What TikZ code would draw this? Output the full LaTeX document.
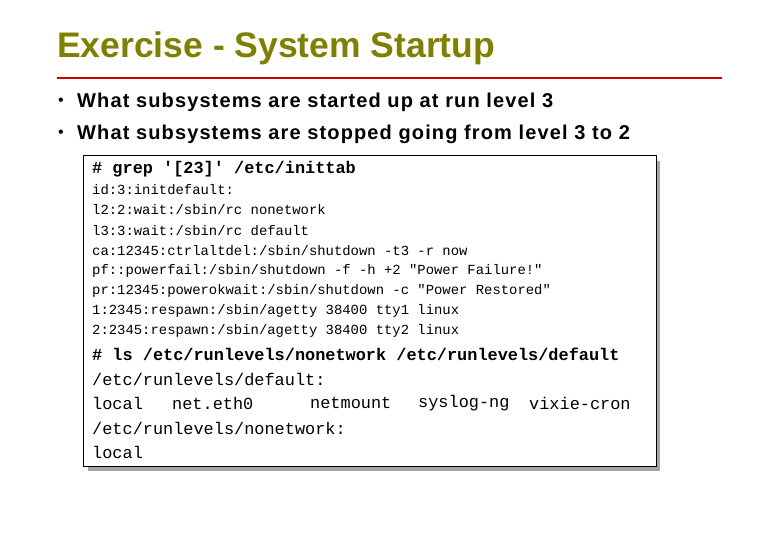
\documentclass[tikz,border=0pt]{standalone}
\usepackage{fontspec}
\setmainfont{Liberation Sans}
\newfontfamily\mono{Liberation Mono}
\newfontfamily\bulfont[LetterSpace=5.6]{Liberation Sans}
\definecolor{olive}{RGB}{128,128,0}
\begin{document}
\begin{tikzpicture}[x=1pt,y=-1pt,
  sm/.style={anchor=west,inner sep=0pt,font=\mono\fontsize{13.9}{14}\selectfont},
  bg/.style={anchor=west,inner sep=0pt,font=\mono\fontsize{16.9}{17}\selectfont},
  bul/.style={anchor=west,inner sep=0pt,font=\bulfont\bfseries\fontsize{20}{21}\selectfont}]
\useasboundingbox (0,0) rectangle (780,540);
\node[anchor=west,inner sep=0pt,text=olive,font=\bfseries\fontsize{35.5}{37}\selectfont] (title) at (57,48) {Exercise - System Startup};
\draw[red!80!black,line width=1.2pt] (57,78) -- (722,78);
\node[anchor=west,inner sep=0pt,font=\fontsize{16}{16}\selectfont] (b1) at (58,102) {•};
\node[bul] (t1) at (77,102) {What subsystems are started up at run level 3};
\node[anchor=west,inner sep=0pt,font=\fontsize{16}{16}\selectfont] (b2) at (58,134) {•};
\node[bul] (t2) at (77,134) {What subsystems are stopped going from level 3 to 2};
\fill[gray!70] (88,161) rectangle (660,471);
\draw[fill=white,line width=1pt] (83,156) rectangle (656,466);
\node[bg,font=\mono\bfseries\fontsize{16.9}{17}\selectfont] (c1) at (92,169) {\# grep '[23]' /etc/inittab};
\node[sm] (l1) at (92,190) {id:3:initdefault:};
\node[sm] (l2) at (92,210) {l2:2:wait:/sbin/rc nonetwork};
\node[sm] (l3) at (92,231) {l3:3:wait:/sbin/rc default};
\node[sm] (l4) at (92,251) {ca:12345:ctrlaltdel:/sbin/shutdown -t3 -r now};
\node[sm] (l5) at (92,271) {pf::powerfail:/sbin/shutdown -f -h +2 "Power Failure!"};
\node[sm] (l6) at (92,291) {pr:12345:powerokwait:/sbin/shutdown -c "Power Restored"};
\node[sm] (l7) at (92,311) {1:2345:respawn:/sbin/agetty 38400 tty1 linux};
\node[sm] (l8) at (92,331) {2:2345:respawn:/sbin/agetty 38400 tty2 linux};
\node[bg,font=\mono\bfseries\fontsize{16.9}{17}\selectfont] (c2) at (92,354) {\# ls /etc/runlevels/nonetwork /etc/runlevels/default};
\node[bg] (r1) at (92,379) {/etc/runlevels/default:};
\node[bg] (r2a) at (92,403) {local};
\node[bg] (r2b) at (172,403) {net.eth0};
\node[bg] (r2c) at (310,403) {netmount};
\node[bg] (r2d) at (418,403) {syslog-ng};
\node[bg] (r2e) at (529,403) {vixie-cron};
\node[bg] (r3) at (92,428) {/etc/runlevels/nonetwork:};
\node[bg] (r4) at (92,452) {local};
\end{tikzpicture}
\end{document}
